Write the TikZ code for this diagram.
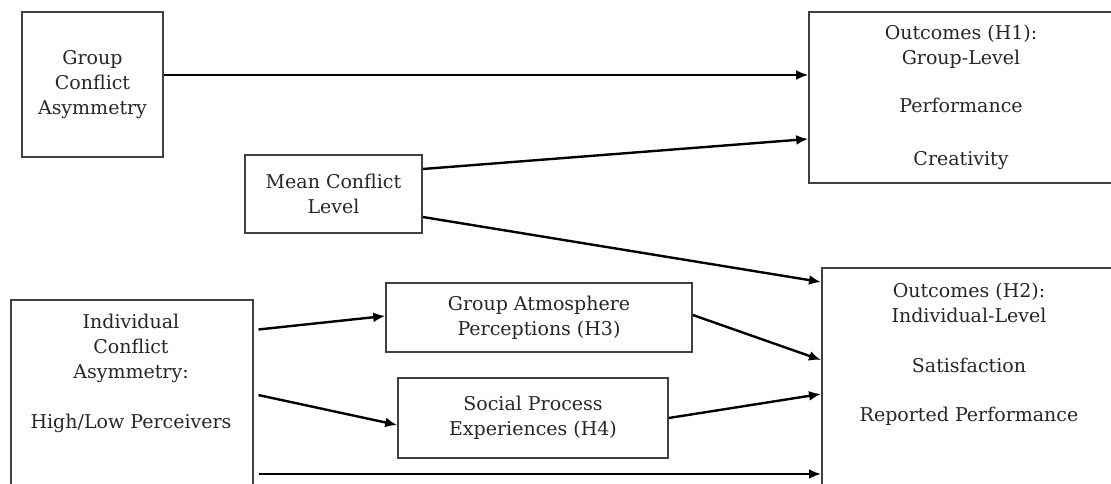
\documentclass[tikz,border=0pt]{standalone}
\usepackage{fontspec}
\setmainfont{DejaVu Serif}
\usetikzlibrary{arrows.meta}
\begin{document}
\begin{tikzpicture}[x=1pt,y=-1pt,
  box/.style={draw=black!75, line width=1.6pt, inner sep=0pt, align=center, text=black!85,
    font=\fontsize{19}{25}\selectfont},
  txt/.style={inner sep=0pt, align=center, text=black!85, font=\fontsize{19}{25}\selectfont},
  arr/.style={line width=2.4pt, black, -{Latex[length=12pt,width=10pt]}}
]
\useasboundingbox (0,0) rectangle (1111,484);
% boxes
\node[box, minimum width=141pt, minimum height=145pt] (gca) at (92.5,84.5) {Group\\Conflict\\Asymmetry};
\node[box, minimum width=304pt, minimum height=171pt] (h1) at (961,97.5)
  {Outcomes (H1):\\Group-Level\\[23pt]Performance\\[28pt]Creativity};
\node[box, minimum width=177pt, minimum height=78pt] (mean) at (333.5,194) {Mean Conflict\\Level};
\node[box, minimum width=242pt, minimum height=230pt, anchor=north west] (ica) at (10,299) {};
\node[txt] (icat) at (131,373) {Individual\\Conflict\\Asymmetry:\\[25pt]High/Low Perceivers};
\node[box, minimum width=306pt, minimum height=69pt] (h3) at (539,317.5) {Group Atmosphere\\Perceptions (H3)};
\node[box, minimum width=270pt, minimum height=80pt] (h4) at (533,418) {Social Process\\Experiences (H4)};
\node[box, minimum width=300pt, minimum height=260pt, anchor=north west] (h2) at (821,267) {};
\node[txt] (h2t) at (969,354) {Outcomes (H2):\\Individual-Level\\[25pt]Satisfaction\\[24pt]Reported Performance};
% connectors
\draw[arr] (gca.east |- 0,75) -- (h1.west |- 0,75);
\draw[arr] (mean.east |- 0,169) -- (h1.west |- 0,139);
\draw[arr] (mean.east |- 0,217) -- (h2.west |- 0,282);
\draw[arr, shorten <=5pt] (ica.east |- 0,330) -- (h3.west |- 0,316);
\draw[arr, shorten <=5pt] (ica.east |- 0,394) -- (h4.west |- 0,425);
\draw[arr, shorten <=5pt] (ica.east |- 0,474) -- (h2.west |- 0,474);
\draw[arr] (h3.east |- 0,315) -- (h2.west |- 0,360);
\draw[arr] (h4.east |- 0,418) -- (h2.west |- 0,394);
\end{tikzpicture}
\end{document}
